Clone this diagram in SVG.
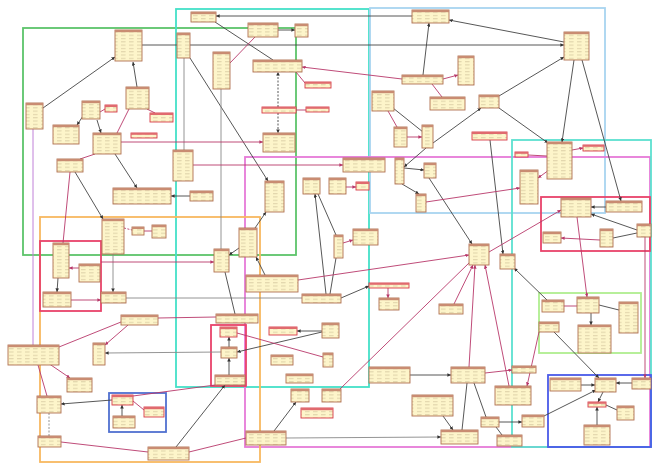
<svg xmlns="http://www.w3.org/2000/svg" width="652" height="466" viewBox="0 0 652 466">
<style>
.fr{fill:none;stroke-width:1.8}
.d{stroke:#444;stroke-width:0.9;fill:none}
.g{stroke:#888;stroke-width:0.9;fill:none}
.p{stroke:#B8386A;stroke-width:0.9;fill:none}
.ds{stroke-dasharray:2 1.5}
.ad{marker-end:url(#ad)}
.ap{marker-end:url(#ap)}
.node rect.b{fill:url(#rows);stroke:#B07050;stroke-width:0.9}
.node rect.h{fill:#C98C72}
.node.r rect.b{stroke:#D83A48}
.node.r rect.h{fill:#E06A6E}
</style>
<defs>
<pattern id="rows" width="8" height="3.3" patternUnits="userSpaceOnUse">
<rect width="8" height="3.3" fill="#FDF5CA"/>
<path d="M1 2.3H5.6" stroke="#B8A880" stroke-width="0.5"/>
</pattern>
<marker id="ad" viewBox="0 0 6 6" refX="6" refY="3" markerWidth="4" markerHeight="4" orient="auto"><path d="M0,0L6,3L0,6z" fill="#333"/></marker>
<marker id="ap" viewBox="0 0 6 6" refX="6" refY="3" markerWidth="4" markerHeight="4" orient="auto"><path d="M0,0L6,3L0,6z" fill="#B8386A"/></marker>
</defs>
<rect width="652" height="466" fill="#fff"/>
<g id="frames">
<rect class="fr" x="23" y="28" width="273" height="227" stroke="#5CC46A"/>
<rect class="fr" x="176" y="9" width="193" height="378" stroke="#44E0C8"/>
<rect class="fr" x="370" y="8" width="235" height="205" stroke="#A8D4F0" stroke-width="1.5"/>
<rect class="fr" x="245" y="157" width="405" height="290" stroke="#E67AD8"/>
<rect class="fr" x="512" y="140" width="139" height="307" stroke="#5CE0D0"/>
<rect class="fr" x="40" y="217" width="220" height="245" stroke="#F8B860"/>
<rect class="fr" x="40" y="241" width="61" height="70" stroke="#E8436A"/>
<rect class="fr" x="211" y="325" width="35" height="61" stroke="#E8436A"/>
<rect class="fr" x="109" y="393" width="57" height="39" stroke="#5070D0"/>
<rect class="fr" x="541" y="197" width="109" height="54" stroke="#E8436A"/>
<rect class="fr" x="539" y="293" width="102" height="60" stroke="#B0EE90"/>
<rect class="fr" x="548" y="375" width="103" height="72" stroke="#4A5AE8" stroke-width="2.5"/>
</g>
<g id="connectors">
<line class="d ad" x1="43" y1="108" x2="115" y2="57"/>
<line class="d ad" x1="137" y1="87" x2="133" y2="62"/>
<line class="d ad" x1="142" y1="45" x2="564" y2="45"/>
<line class="d ad" x1="97" y1="120" x2="101" y2="133"/>
<line class="d ad" x1="83" y1="116" x2="77" y2="125"/>
<line class="d ad" x1="115" y1="154" x2="137" y2="188"/>
<line class="d ad" x1="75" y1="172" x2="103" y2="219"/>
<line class="g ad" x1="113" y1="254" x2="113" y2="292"/>
<line class="d ad" x1="58" y1="278" x2="57" y2="292"/>
<line class="g" x1="126" y1="298" x2="302" y2="298"/>
<line class="d ad" x1="412" y1="16" x2="216" y2="16"/>
<line class="d" x1="215" y1="22" x2="273" y2="60"/>
<line class="d ad" x1="278" y1="30" x2="295" y2="30"/>
<line class="g" x1="184" y1="58" x2="184" y2="150"/>
<line class="d ad" x1="190" y1="58" x2="268" y2="181"/>
<line class="g" x1="221" y1="89" x2="221" y2="249"/>
<line class="d ds ad" x1="278" y1="107" x2="278" y2="72"/>
<line class="d ds ad" x1="278" y1="113" x2="278" y2="133"/>
<line class="d ad" x1="190" y1="196" x2="171" y2="196"/>
<line class="d ad" x1="255" y1="228" x2="266" y2="212"/>
<line class="d ad" x1="239" y1="248" x2="229" y2="255"/>
<line class="d ad" x1="265" y1="275" x2="256" y2="257"/>
<line class="d" x1="225" y1="272" x2="235" y2="314"/>
<line class="d ad" x1="326" y1="294" x2="315" y2="194"/>
<line class="d" x1="318" y1="194" x2="336" y2="235"/>
<line class="d" x1="336" y1="258" x2="330" y2="294"/>
<line class="d ad" x1="341" y1="298" x2="369" y2="286"/>
<line class="d ad" x1="564" y1="42" x2="449" y2="20"/>
<line class="d ad" x1="423" y1="75" x2="429" y2="23"/>
<line class="d" x1="393" y1="108" x2="423" y2="132"/>
<line class="d ad" x1="433" y1="143" x2="481" y2="108"/>
<line class="d ad" x1="426" y1="148" x2="404" y2="167"/>
<line class="d ad" x1="499" y1="96" x2="564" y2="57"/>
<line class="d ad" x1="499" y1="108" x2="548" y2="143"/>
<line class="d ad" x1="574" y1="60" x2="562" y2="142"/>
<line class="d ad" x1="582" y1="60" x2="621" y2="201"/>
<line class="d ad" x1="490" y1="140" x2="503" y2="254"/>
<line class="d ad" x1="429" y1="178" x2="472" y2="244"/>
<line class="d ad" x1="402" y1="184" x2="419" y2="194"/>
<line class="d ad" x1="404" y1="168" x2="424" y2="170"/>
<line class="d ad" x1="606" y1="207" x2="591" y2="207"/>
<line class="d ad" x1="637" y1="230" x2="591" y2="214"/>
<line class="d" x1="613" y1="238" x2="637" y2="233"/>
<line class="d ad" x1="547" y1="300" x2="514" y2="268"/>
<line class="d" x1="599" y1="305" x2="619" y2="310"/>
<line class="d ad" x1="591" y1="313" x2="591" y2="325"/>
<line class="d ad" x1="554" y1="332" x2="599" y2="378"/>
<line class="d ad" x1="581" y1="385" x2="595" y2="385"/>
<line class="d ad" x1="632" y1="383" x2="616" y2="383"/>
<line class="d ad" x1="603" y1="392" x2="598" y2="402"/>
<line class="d ad" x1="597" y1="425" x2="597" y2="407"/>
<line class="d" x1="617" y1="410" x2="606" y2="405"/>
<line class="d ad" x1="544" y1="416" x2="596" y2="390"/>
<line class="d ad" x1="499" y1="422" x2="522" y2="422"/>
<line class="d" x1="496" y1="427" x2="502" y2="435"/>
<line class="d ad" x1="410" y1="375" x2="451" y2="375"/>
<line class="d ad" x1="443" y1="416" x2="453" y2="430"/>
<line class="d" x1="462" y1="430" x2="467" y2="383"/>
<line class="d" x1="474" y1="383" x2="486" y2="417"/>
<line class="g ad" x1="286" y1="438" x2="441" y2="437"/>
<line class="d ad" x1="274" y1="431" x2="296" y2="402"/>
<line class="d ad" x1="176" y1="447" x2="225" y2="385"/>
<line class="d ad" x1="229" y1="375" x2="229" y2="358"/>
<line class="d ad" x1="229" y1="347" x2="229" y2="337"/>
<line class="g ad" x1="221" y1="352" x2="105" y2="353"/>
<line class="d ad" x1="322" y1="332" x2="237" y2="352"/>
<line class="d ad" x1="322" y1="331" x2="297" y2="331"/>
<line class="d ad" x1="112" y1="400" x2="61" y2="404"/>
<line class="d ad" x1="122" y1="416" x2="122" y2="405"/>
<line class="g ds" x1="49" y1="413" x2="49" y2="436"/>
<line class="p" x1="129" y1="109" x2="117" y2="133"/>
<line class="p" x1="147" y1="109" x2="155" y2="113"/>
<line class="p" x1="100" y1="112" x2="105" y2="109"/>
<line class="p" x1="80" y1="159" x2="95" y2="154"/>
<line class="p" x1="70" y1="172" x2="63" y2="243"/>
<line class="p ds" x1="124" y1="228" x2="132" y2="230"/>
<line class="p" x1="144" y1="231" x2="152" y2="231"/>
<line class="p ap" x1="79" y1="268" x2="69" y2="268"/>
<line class="p ap" x1="71" y1="300" x2="101" y2="300"/>
<line class="p ap" x1="101" y1="262" x2="214" y2="262"/>
<line class="p" x1="255" y1="37" x2="230" y2="63"/>
<line class="p ap" x1="402" y1="79" x2="302" y2="67"/>
<line class="p" x1="296" y1="72" x2="305" y2="83"/>
<line class="p" x1="296" y1="110" x2="306" y2="110"/>
<line class="p ap" x1="121" y1="142" x2="263" y2="142"/>
<line class="p ap" x1="193" y1="165" x2="343" y2="165"/>
<line class="p ap" x1="346" y1="187" x2="356" y2="187"/>
<line class="p ap" x1="343" y1="243" x2="353" y2="240"/>
<line class="p ap" x1="388" y1="288" x2="388" y2="298"/>
<line class="p ap" x1="298" y1="280" x2="469" y2="255"/>
<line class="p" x1="470" y1="262" x2="340" y2="389" stroke-width="1.3"/>
<line class="p ap" x1="454" y1="304" x2="473" y2="265"/>
<line class="p ap" x1="469" y1="367" x2="475" y2="265"/>
<line class="p ap" x1="509" y1="386" x2="485" y2="265"/>
<line class="p ap" x1="489" y1="252" x2="561" y2="210"/>
<line class="p ap" x1="426" y1="202" x2="520" y2="188"/>
<line class="p ap" x1="549" y1="170" x2="538" y2="178"/>
<line class="p ap" x1="572" y1="150" x2="583" y2="148"/>
<line class="p" x1="528" y1="155" x2="547" y2="156"/>
<line class="p ap" x1="443" y1="79" x2="458" y2="75"/>
<line class="p" x1="432" y1="84" x2="442" y2="97"/>
<line class="p" x1="388" y1="111" x2="397" y2="127"/>
<line class="p ap" x1="407" y1="137" x2="422" y2="137"/>
<line class="p ap" x1="600" y1="240" x2="561" y2="238"/>
<line class="p ap" x1="577" y1="217" x2="587" y2="297"/>
<line class="p ap" x1="645" y1="237" x2="645" y2="378"/>
<line class="p" x1="564" y1="306" x2="577" y2="306"/>
<line class="p ap" x1="539" y1="332" x2="527" y2="386"/>
<line class="p ap" x1="485" y1="373" x2="512" y2="370"/>
<line class="p" x1="246" y1="438" x2="189" y2="452"/>
<line class="p" x1="61" y1="442" x2="148" y2="452"/>
<line class="p" x1="59" y1="347" x2="121" y2="322"/>
<line class="p ap" x1="128" y1="325" x2="105" y2="345"/>
<line class="p ap" x1="48" y1="363" x2="70" y2="378"/>
<line class="p" x1="38" y1="365" x2="47" y2="396"/>
<line class="p" x1="133" y1="401" x2="144" y2="410"/>
<line class="p" x1="133" y1="396" x2="215" y2="385"/>
<line class="p" x1="158" y1="318" x2="216" y2="317"/>
<line class="p" x1="237" y1="333" x2="323" y2="357"/>
<line x1="33" y1="129" x2="33" y2="345" stroke="#C080D8" stroke-width="1"/>
</g>
<g id="n1" class="node"><rect class="b" x="115" y="30" width="27" height="31"/><rect class="h" x="115" y="30" width="27" height="2.2"/></g>
<g id="n2" class="node"><rect class="b" x="26" y="103" width="17" height="26"/><rect class="h" x="26" y="103" width="17" height="2.2"/></g>
<g id="n3" class="node"><rect class="b" x="82" y="101" width="18" height="18"/><rect class="h" x="82" y="101" width="18" height="2.2"/></g>
<g id="n4" class="node r"><rect class="b" x="105" y="105" width="12" height="7"/><rect class="h" x="105" y="105" width="12" height="2"/></g>
<g id="n5" class="node"><rect class="b" x="126" y="87" width="23" height="22"/><rect class="h" x="126" y="87" width="23" height="2.2"/></g>
<g id="n6" class="node r"><rect class="b" x="150" y="113" width="23" height="9"/><rect class="h" x="150" y="113" width="23" height="2"/></g>
<g id="n7" class="node"><rect class="b" x="53" y="125" width="26" height="19"/><rect class="h" x="53" y="125" width="26" height="2.2"/></g>
<g id="n8" class="node"><rect class="b" x="93" y="133" width="28" height="21"/><rect class="h" x="93" y="133" width="28" height="2.2"/></g>
<g id="n9" class="node r"><rect class="b" x="131" y="133" width="26" height="5"/><rect class="h" x="131" y="133" width="26" height="1.8"/></g>
<g id="n10" class="node"><rect class="b" x="57" y="159" width="26" height="13"/><rect class="h" x="57" y="159" width="26" height="2.2"/></g>
<g id="n11" class="node"><rect class="b" x="113" y="188" width="58" height="16"/><rect class="h" x="113" y="188" width="58" height="2.2"/></g>
<g id="n12" class="node"><rect class="b" x="102" y="219" width="22" height="35"/><rect class="h" x="102" y="219" width="22" height="2.2"/></g>
<g id="n13" class="node"><rect class="b" x="132" y="227" width="12" height="8"/><rect class="h" x="132" y="227" width="12" height="2"/></g>
<g id="n14" class="node"><rect class="b" x="152" y="225" width="14" height="13"/><rect class="h" x="152" y="225" width="14" height="2.2"/></g>
<g id="n15" class="node"><rect class="b" x="53" y="243" width="16" height="35"/><rect class="h" x="53" y="243" width="16" height="2.2"/></g>
<g id="n16" class="node"><rect class="b" x="79" y="264" width="21" height="18"/><rect class="h" x="79" y="264" width="21" height="2.2"/></g>
<g id="n17" class="node"><rect class="b" x="43" y="292" width="28" height="15"/><rect class="h" x="43" y="292" width="28" height="2.2"/></g>
<g id="n18" class="node"><rect class="b" x="101" y="292" width="25" height="11"/><rect class="h" x="101" y="292" width="25" height="2.2"/></g>
<g id="n19" class="node"><rect class="b" x="8" y="345" width="51" height="20"/><rect class="h" x="8" y="345" width="51" height="2.2"/></g>
<g id="n20" class="node"><rect class="b" x="121" y="315" width="37" height="10"/><rect class="h" x="121" y="315" width="37" height="2.2"/></g>
<g id="n21" class="node"><rect class="b" x="93" y="343" width="12" height="22"/><rect class="h" x="93" y="343" width="12" height="2.2"/></g>
<g id="n22" class="node"><rect class="b" x="67" y="378" width="25" height="14"/><rect class="h" x="67" y="378" width="25" height="2.2"/></g>
<g id="n23" class="node"><rect class="b" x="37" y="396" width="24" height="17"/><rect class="h" x="37" y="396" width="24" height="2.2"/></g>
<g id="n24" class="node r"><rect class="b" x="112" y="395" width="21" height="10"/><rect class="h" x="112" y="395" width="21" height="2.2"/></g>
<g id="n25" class="node"><rect class="b" x="113" y="416" width="22" height="12"/><rect class="h" x="113" y="416" width="22" height="2.2"/></g>
<g id="n26" class="node r"><rect class="b" x="144" y="407" width="20" height="10"/><rect class="h" x="144" y="407" width="20" height="2.2"/></g>
<g id="n27" class="node"><rect class="b" x="38" y="436" width="23" height="11"/><rect class="h" x="38" y="436" width="23" height="2.2"/></g>
<g id="n28" class="node"><rect class="b" x="148" y="447" width="41" height="13"/><rect class="h" x="148" y="447" width="41" height="2.2"/></g>
<g id="n29" class="node"><rect class="b" x="216" y="314" width="42" height="9"/><rect class="h" x="216" y="314" width="42" height="2.2"/></g>
<g id="n30" class="node r"><rect class="b" x="220" y="327" width="17" height="10"/><rect class="h" x="220" y="327" width="17" height="2.2"/></g>
<g id="n31" class="node"><rect class="b" x="221" y="347" width="16" height="11"/><rect class="h" x="221" y="347" width="16" height="2.2"/></g>
<g id="n32" class="node"><rect class="b" x="215" y="375" width="30" height="10"/><rect class="h" x="215" y="375" width="30" height="2.2"/></g>
<g id="n33" class="node r"><rect class="b" x="269" y="327" width="28" height="8"/><rect class="h" x="269" y="327" width="28" height="2"/></g>
<g id="n34" class="node"><rect class="b" x="271" y="355" width="22" height="10"/><rect class="h" x="271" y="355" width="22" height="2.2"/></g>
<g id="n35" class="node"><rect class="b" x="322" y="323" width="17" height="15"/><rect class="h" x="322" y="323" width="17" height="2.2"/></g>
<g id="n36" class="node"><rect class="b" x="323" y="353" width="10" height="14"/><rect class="h" x="323" y="353" width="10" height="2.2"/></g>
<g id="n37" class="node"><rect class="b" x="286" y="374" width="27" height="9"/><rect class="h" x="286" y="374" width="27" height="2.2"/></g>
<g id="n38" class="node"><rect class="b" x="291" y="389" width="18" height="13"/><rect class="h" x="291" y="389" width="18" height="2.2"/></g>
<g id="n39" class="node"><rect class="b" x="322" y="389" width="19" height="13"/><rect class="h" x="322" y="389" width="19" height="2.2"/></g>
<g id="n40" class="node r"><rect class="b" x="301" y="408" width="32" height="10"/><rect class="h" x="301" y="408" width="32" height="2.2"/></g>
<g id="n41" class="node"><rect class="b" x="246" y="431" width="40" height="14"/><rect class="h" x="246" y="431" width="40" height="2.2"/></g>
<g id="n42" class="node"><rect class="b" x="369" y="367" width="41" height="16"/><rect class="h" x="369" y="367" width="41" height="2.2"/></g>
<g id="n43" class="node"><rect class="b" x="451" y="367" width="34" height="16"/><rect class="h" x="451" y="367" width="34" height="2.2"/></g>
<g id="n44" class="node"><rect class="b" x="412" y="395" width="41" height="21"/><rect class="h" x="412" y="395" width="41" height="2.2"/></g>
<g id="n45" class="node"><rect class="b" x="441" y="430" width="37" height="14"/><rect class="h" x="441" y="430" width="37" height="2.2"/></g>
<g id="n46" class="node"><rect class="b" x="481" y="417" width="18" height="10"/><rect class="h" x="481" y="417" width="18" height="2.2"/></g>
<g id="n47" class="node"><rect class="b" x="439" y="304" width="24" height="10"/><rect class="h" x="439" y="304" width="24" height="2.2"/></g>
<g id="n48" class="node"><rect class="b" x="539" y="322" width="20" height="10"/><rect class="h" x="539" y="322" width="20" height="2.2"/></g>
<g id="n49" class="node"><rect class="b" x="578" y="325" width="33" height="28"/><rect class="h" x="578" y="325" width="33" height="2.2"/></g>
<g id="n50" class="node"><rect class="b" x="619" y="302" width="19" height="31"/><rect class="h" x="619" y="302" width="19" height="2.2"/></g>
<g id="n51" class="node"><rect class="b" x="577" y="297" width="22" height="16"/><rect class="h" x="577" y="297" width="22" height="2.2"/></g>
<g id="n52" class="node"><rect class="b" x="542" y="300" width="22" height="12"/><rect class="h" x="542" y="300" width="22" height="2.2"/></g>
<g id="n53" class="node"><rect class="b" x="512" y="366" width="24" height="7"/><rect class="h" x="512" y="366" width="24" height="2"/></g>
<g id="n54" class="node"><rect class="b" x="495" y="386" width="36" height="19"/><rect class="h" x="495" y="386" width="36" height="2.2"/></g>
<g id="n55" class="node"><rect class="b" x="550" y="378" width="31" height="13"/><rect class="h" x="550" y="378" width="31" height="2.2"/></g>
<g id="n56" class="node"><rect class="b" x="595" y="378" width="21" height="14"/><rect class="h" x="595" y="378" width="21" height="2.2"/></g>
<g id="n57" class="node"><rect class="b" x="632" y="378" width="19" height="11"/><rect class="h" x="632" y="378" width="19" height="2.2"/></g>
<g id="n58" class="node r"><rect class="b" x="588" y="402" width="18" height="5"/><rect class="h" x="588" y="402" width="18" height="1.8"/></g>
<g id="n59" class="node"><rect class="b" x="617" y="406" width="17" height="14"/><rect class="h" x="617" y="406" width="17" height="2.2"/></g>
<g id="n60" class="node"><rect class="b" x="584" y="425" width="26" height="20"/><rect class="h" x="584" y="425" width="26" height="2.2"/></g>
<g id="n62" class="node"><rect class="b" x="497" y="435" width="25" height="11"/><rect class="h" x="497" y="435" width="25" height="2.2"/></g>
<g id="n63" class="node"><rect class="b" x="522" y="415" width="22" height="12"/><rect class="h" x="522" y="415" width="22" height="2.2"/></g>
<g id="n64" class="node"><rect class="b" x="547" y="142" width="25" height="37"/><rect class="h" x="547" y="142" width="25" height="2.2"/></g>
<g id="n65" class="node"><rect class="b" x="520" y="170" width="18" height="34"/><rect class="h" x="520" y="170" width="18" height="2.2"/></g>
<g id="n66" class="node"><rect class="b" x="561" y="198" width="30" height="19"/><rect class="h" x="561" y="198" width="30" height="2.2"/></g>
<g id="n67" class="node"><rect class="b" x="606" y="201" width="36" height="11"/><rect class="h" x="606" y="201" width="36" height="2.2"/></g>
<g id="n68" class="node"><rect class="b" x="543" y="232" width="18" height="11"/><rect class="h" x="543" y="232" width="18" height="2.2"/></g>
<g id="n69" class="node"><rect class="b" x="600" y="229" width="13" height="18"/><rect class="h" x="600" y="229" width="13" height="2.2"/></g>
<g id="n70" class="node"><rect class="b" x="637" y="224" width="14" height="13"/><rect class="h" x="637" y="224" width="14" height="2.2"/></g>
<g id="n71" class="node"><rect class="b" x="500" y="254" width="15" height="15"/><rect class="h" x="500" y="254" width="15" height="2.2"/></g>
<g id="n72" class="node r"><rect class="b" x="583" y="145" width="21" height="6"/><rect class="h" x="583" y="145" width="21" height="1.8"/></g>
<g id="n73" class="node r"><rect class="b" x="515" y="152" width="13" height="5"/><rect class="h" x="515" y="152" width="13" height="1.8"/></g>
<g id="n74" class="node"><rect class="b" x="564" y="32" width="25" height="28"/><rect class="h" x="564" y="32" width="25" height="2.2"/></g>
<g id="n75" class="node"><rect class="b" x="479" y="95" width="20" height="13"/><rect class="h" x="479" y="95" width="20" height="2.2"/></g>
<g id="n76" class="node r"><rect class="b" x="472" y="132" width="35" height="8"/><rect class="h" x="472" y="132" width="35" height="2"/></g>
<g id="n77" class="node"><rect class="b" x="412" y="10" width="37" height="13"/><rect class="h" x="412" y="10" width="37" height="2.2"/></g>
<g id="n78" class="node"><rect class="b" x="402" y="75" width="41" height="9"/><rect class="h" x="402" y="75" width="41" height="2.2"/></g>
<g id="n79" class="node"><rect class="b" x="458" y="56" width="16" height="29"/><rect class="h" x="458" y="56" width="16" height="2.2"/></g>
<g id="n80" class="node"><rect class="b" x="430" y="97" width="35" height="13"/><rect class="h" x="430" y="97" width="35" height="2.2"/></g>
<g id="n81" class="node"><rect class="b" x="372" y="91" width="22" height="20"/><rect class="h" x="372" y="91" width="22" height="2.2"/></g>
<g id="n82" class="node"><rect class="b" x="394" y="127" width="13" height="20"/><rect class="h" x="394" y="127" width="13" height="2.2"/></g>
<g id="n83" class="node"><rect class="b" x="422" y="125" width="11" height="23"/><rect class="h" x="422" y="125" width="11" height="2.2"/></g>
<g id="n84" class="node r"><rect class="b" x="305" y="82" width="26" height="6"/><rect class="h" x="305" y="82" width="26" height="1.8"/></g>
<g id="n85" class="node r"><rect class="b" x="306" y="107" width="23" height="5"/><rect class="h" x="306" y="107" width="23" height="1.8"/></g>
<g id="n86" class="node"><rect class="b" x="191" y="12" width="25" height="10"/><rect class="h" x="191" y="12" width="25" height="2.2"/></g>
<g id="n87" class="node"><rect class="b" x="248" y="23" width="30" height="14"/><rect class="h" x="248" y="23" width="30" height="2.2"/></g>
<g id="n88" class="node"><rect class="b" x="295" y="24" width="13" height="13"/><rect class="h" x="295" y="24" width="13" height="2.2"/></g>
<g id="n89" class="node"><rect class="b" x="177" y="33" width="13" height="25"/><rect class="h" x="177" y="33" width="13" height="2.2"/></g>
<g id="n90" class="node"><rect class="b" x="213" y="52" width="17" height="37"/><rect class="h" x="213" y="52" width="17" height="2.2"/></g>
<g id="n91" class="node"><rect class="b" x="253" y="60" width="49" height="12"/><rect class="h" x="253" y="60" width="49" height="2.2"/></g>
<g id="n92" class="node r"><rect class="b" x="262" y="107" width="34" height="6"/><rect class="h" x="262" y="107" width="34" height="1.8"/></g>
<g id="n93" class="node"><rect class="b" x="263" y="133" width="32" height="19"/><rect class="h" x="263" y="133" width="32" height="2.2"/></g>
<g id="n94" class="node"><rect class="b" x="173" y="150" width="20" height="31"/><rect class="h" x="173" y="150" width="20" height="2.2"/></g>
<g id="n96" class="node"><rect class="b" x="190" y="191" width="23" height="10"/><rect class="h" x="190" y="191" width="23" height="2.2"/></g>
<g id="n97" class="node"><rect class="b" x="265" y="181" width="19" height="31"/><rect class="h" x="265" y="181" width="19" height="2.2"/></g>
<g id="n98" class="node"><rect class="b" x="303" y="178" width="17" height="16"/><rect class="h" x="303" y="178" width="17" height="2.2"/></g>
<g id="n99" class="node"><rect class="b" x="239" y="228" width="18" height="29"/><rect class="h" x="239" y="228" width="18" height="2.2"/></g>
<g id="n100" class="node"><rect class="b" x="214" y="249" width="15" height="23"/><rect class="h" x="214" y="249" width="15" height="2.2"/></g>
<g id="n101" class="node"><rect class="b" x="246" y="275" width="52" height="17"/><rect class="h" x="246" y="275" width="52" height="2.2"/></g>
<g id="n102" class="node"><rect class="b" x="302" y="294" width="39" height="9"/><rect class="h" x="302" y="294" width="39" height="2.2"/></g>
<g id="n103" class="node"><rect class="b" x="343" y="158" width="42" height="14"/><rect class="h" x="343" y="158" width="42" height="2.2"/></g>
<g id="n104" class="node"><rect class="b" x="329" y="178" width="17" height="16"/><rect class="h" x="329" y="178" width="17" height="2.2"/></g>
<g id="n105" class="node r"><rect class="b" x="356" y="182" width="13" height="8"/><rect class="h" x="356" y="182" width="13" height="2"/></g>
<g id="n106" class="node"><rect class="b" x="395" y="158" width="9" height="26"/><rect class="h" x="395" y="158" width="9" height="2.2"/></g>
<g id="n107" class="node"><rect class="b" x="424" y="163" width="12" height="15"/><rect class="h" x="424" y="163" width="12" height="2.2"/></g>
<g id="n108" class="node"><rect class="b" x="416" y="194" width="10" height="18"/><rect class="h" x="416" y="194" width="10" height="2.2"/></g>
<g id="n109" class="node"><rect class="b" x="334" y="235" width="9" height="23"/><rect class="h" x="334" y="235" width="9" height="2.2"/></g>
<g id="n110" class="node"><rect class="b" x="353" y="229" width="25" height="16"/><rect class="h" x="353" y="229" width="25" height="2.2"/></g>
<g id="n111" class="node"><rect class="b" x="469" y="244" width="20" height="21"/><rect class="h" x="469" y="244" width="20" height="2.2"/></g>
<g id="n112" class="node r"><rect class="b" x="369" y="283" width="40" height="5"/><rect class="h" x="369" y="283" width="40" height="1.8"/></g>
<g id="n113" class="node"><rect class="b" x="379" y="298" width="20" height="12"/><rect class="h" x="379" y="298" width="20" height="2.2"/></g>
</svg>
